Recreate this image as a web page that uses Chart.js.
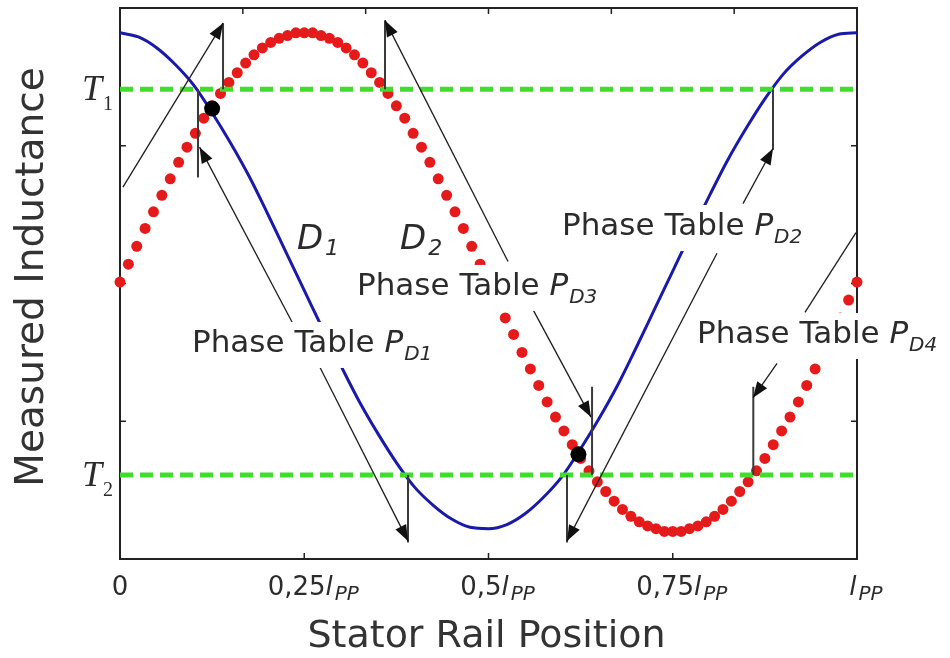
<!DOCTYPE html>
<html>
<head>
<meta charset="utf-8">
<title>Measured Inductance</title>
<script src="https://cdn.jsdelivr.net/npm/chart.js@4.4.1/dist/chart.umd.min.js"></script>
<style>
  html, body { margin: 0; padding: 0; background: #fff; }
  #chart { display: block; }
</style>
</head>
<body>
<canvas id="chart" width="950" height="658"></canvas>
<script>
// inductance of the two detector coils along one pole pitch (x in fractions of l_PP)
var coilD1 = [3.82, 3.79, 3.71, 3.59, 3.44, 3.24, 3.02, 2.78, 2.51, 2.23,
              1.95, 1.67, 1.40, 1.14, 0.91, 0.70, 0.52, 0.39, 0.29, 0.23,
              0.22, 0.25, 0.33, 0.45, 0.60, 0.80, 1.02, 1.26, 1.53, 1.81,
              2.09, 2.37, 2.64, 2.90, 3.13, 3.34, 3.52, 3.65, 3.75, 3.81,
              3.82];
var coilD2 = [2.01, 2.14, 2.27, 2.40, 2.52, 2.64, 2.76, 2.88, 2.99, 3.09,
              3.20, 3.29, 3.38, 3.46, 3.53, 3.60, 3.66, 3.71, 3.75, 3.78,
              3.80, 3.82, 3.82, 3.82, 3.80, 3.78, 3.75, 3.71, 3.66, 3.60,
              3.53, 3.46, 3.38, 3.29, 3.20, 3.09, 2.99, 2.88, 2.76, 2.64,
              2.52, 2.40, 2.27, 2.14, 2.01, 1.88, 1.75, 1.63, 1.50, 1.38,
              1.26, 1.14, 1.03, 0.93, 0.83, 0.73, 0.64, 0.56, 0.49, 0.42,
              0.36, 0.31, 0.27, 0.24, 0.22, 0.20, 0.20, 0.20, 0.22, 0.24,
              0.27, 0.31, 0.36, 0.42, 0.49, 0.56, 0.64, 0.73, 0.83, 0.93,
              1.03, 1.14, 1.26, 1.38, 1.50, 1.63, 1.75, 1.88, 2.01];
var thresholdT1 = 3.41;
var thresholdT2 = 0.61;
var crossings = [{ x: 0.125, y: 3.27 }, { x: 0.622, y: 0.76 }];

var xTicks = [0, 0.25, 0.5, 0.75, 1];
var xTickNumbers = ['0', '0,25', '0,5', '0,75', ''];
var topTicks = [1 / 6, 2 / 6, 3 / 6, 4 / 6, 5 / 6];
var yTicks = [1, 2, 3];

// arrows in data units: [x1, y1, x2, y2, head]
var arrows = [
  [0.004, 2.70, 0.1398, 3.89, true],
  [0.2334, 1.72, 0.108, 2.99, true],
  [0.2714, 1.39, 0.3908, 0.13, true],
  [0.5265, 2.16, 0.3596, 3.91, true],
  [0.5604, 1.81, 0.639, 1.03, true],
  [0.810, 2.22, 0.6065, 0.13, true],
  [0.8453, 2.58, 0.886, 2.98, true],
  [0.9294, 1.79, 0.9986, 2.37, false],
  [0.8915, 1.42, 0.8589, 1.17, true]
];
// vertical marks at the threshold crossings: [x, from, to]
var marks = [
  [0.1398, 3.41, 3.89],
  [0.1058, 3.41, 2.77],
  [0.3908, 0.61, 0.12],
  [0.3596, 3.41, 3.91],
  [0.6405, 0.61, 1.25],
  [0.6065, 0.61, 0.12],
  [0.886, 3.41, 2.97],
  [0.8593, 0.61, 1.25]
];
var phaseTables = [
  { sub: 'D1', x: 0.0977, y: 1.503 },
  { sub: 'D3', x: 0.3216, y: 1.917 },
  { sub: 'D2', x: 0.5997, y: 2.352 },
  { sub: 'D4', x: 0.7829, y: 1.568 }
];
var coilLabels = [
  { sub: '1', x: 0.240, y: 2.25 },
  { sub: '2', x: 0.380, y: 2.25 }
];

var SANS = '"DejaVu Sans", Verdana, sans-serif';
var SERIF = '"Liberation Serif", "Times New Roman", serif';
var TEXT = '#2b2b2b';

function toPoints(values) {
  return values.map(function (v, i) {
    return { x: i / (values.length - 1), y: v };
  });
}

function partsWidth(ctx, parts) {
  var w = 0;
  parts.forEach(function (p) {
    ctx.font = p.font;
    w += ctx.measureText(p.text).width + (p.gap || 0);
  });
  return w;
}

function drawParts(ctx, parts, x, y) {
  parts.forEach(function (p) {
    ctx.font = p.font;
    ctx.fillText(p.text, x, y + (p.dy || 0));
    x += ctx.measureText(p.text).width + (p.gap || 0);
  });
}

function arrowHead(ctx, x1, y1, x2, y2) {
  var a = Math.atan2(y2 - y1, x2 - x1);
  var len = 16, half = 6;
  var bx = x2 - len * Math.cos(a), by = y2 - len * Math.sin(a);
  ctx.beginPath();
  ctx.moveTo(x2, y2);
  ctx.lineTo(bx + half * Math.sin(a), by - half * Math.cos(a));
  ctx.lineTo(bx - half * Math.sin(a), by + half * Math.cos(a));
  ctx.closePath();
  ctx.fill();
}

var overlay = {
  id: 'overlay',
  beforeDatasetsDraw: function (chart) {
    var ctx = chart.ctx, a = chart.chartArea;
    var xs = chart.scales.x, ys = chart.scales.y;
    ctx.save();
    ctx.strokeStyle = '#222';
    ctx.lineWidth = 2;
    ctx.strokeRect(a.left, a.top, a.right - a.left, a.bottom - a.top);
    ctx.lineWidth = 1.5;
    ctx.beginPath();
    xTicks.forEach(function (v) {
      var px = xs.getPixelForValue(v);
      ctx.moveTo(px, a.bottom);
      ctx.lineTo(px, a.bottom - 6);
    });
    topTicks.forEach(function (v) {
      var px = xs.getPixelForValue(v);
      ctx.moveTo(px, a.top);
      ctx.lineTo(px, a.top + 6);
    });
    yTicks.forEach(function (v) {
      var py = ys.getPixelForValue(v);
      ctx.moveTo(a.left, py);
      ctx.lineTo(a.left + 6, py);
      ctx.moveTo(a.right, py);
      ctx.lineTo(a.right - 6, py);
    });
    ctx.stroke();
    ctx.restore();
  },
  afterDatasetsDraw: function (chart) {
    var ctx = chart.ctx, a = chart.chartArea;
    var xs = chart.scales.x, ys = chart.scales.y;
    ctx.save();

    // vertical marks
    ctx.strokeStyle = '#3a3a3a';
    ctx.lineWidth = 2;
    marks.forEach(function (m) {
      var px = xs.getPixelForValue(m[0]);
      ctx.beginPath();
      ctx.moveTo(px, ys.getPixelForValue(m[1]));
      ctx.lineTo(px, ys.getPixelForValue(m[2]));
      ctx.stroke();
    });

    // arrows
    ctx.strokeStyle = '#1e1e1e';
    ctx.fillStyle = '#111';
    ctx.lineWidth = 1.3;
    arrows.forEach(function (r) {
      var x1 = xs.getPixelForValue(r[0]), y1 = ys.getPixelForValue(r[1]);
      var x2 = xs.getPixelForValue(r[2]), y2 = ys.getPixelForValue(r[3]);
      ctx.beginPath();
      ctx.moveTo(x1, y1);
      ctx.lineTo(x2, y2);
      ctx.stroke();
      if (r[4]) arrowHead(ctx, x1, y1, x2, y2);
    });

    // phase table labels on white boxes
    ctx.textBaseline = 'alphabetic';
    phaseTables.forEach(function (t) {
      var parts = [
        { text: 'Phase Table ', font: '31px ' + SANS },
        { text: 'P', font: 'italic 31px ' + SANS, gap: 1 },
        { text: t.sub, font: 'italic 20px ' + SANS, dy: 8 }
      ];
      var x = xs.getPixelForValue(t.x), y = ys.getPixelForValue(t.y);
      var w = partsWidth(ctx, parts);
      ctx.fillStyle = '#fff';
      ctx.fillRect(x - 6, y - 30, w + 12, 46);
      ctx.fillStyle = TEXT;
      drawParts(ctx, parts, x, y);
    });

    // coil names
    ctx.fillStyle = TEXT;
    coilLabels.forEach(function (c) {
      drawParts(ctx, [
        { text: 'D', font: 'italic 34px ' + SANS, gap: 2 },
        { text: c.sub, font: 'italic 22px ' + SANS, dy: 6 }
      ], xs.getPixelForValue(c.x), ys.getPixelForValue(c.y));
    });

    // threshold names
    [['1', thresholdT1], ['2', thresholdT2]].forEach(function (t) {
      var py = ys.getPixelForValue(t[1]);
      drawParts(ctx, [
        { text: 'T', font: 'italic 36px ' + SERIF, gap: 1 },
        { text: t[0], font: '20px ' + SERIF, dy: 10 }
      ], 82, py + 11);
    });

    // x tick labels
    xTicks.forEach(function (v, i) {
      var parts = [{ text: xTickNumbers[i], font: '26px ' + SANS }];
      var shift = 0;
      if (v > 0) {
        parts.push({ text: 'l', font: 'italic 26px ' + SANS, gap: 2 });
        parts.push({ text: 'PP', font: 'italic 20px ' + SANS, dy: 5 });
        shift = 9;
      }
      var w = partsWidth(ctx, parts);
      drawParts(ctx, parts, xs.getPixelForValue(v) - w / 2 + shift, 595);
    });

    // axis titles
    ctx.font = '38px ' + SANS;
    ctx.textAlign = 'center';
    ctx.fillStyle = '#333';
    ctx.fillText('Stator Rail Position', (a.left + a.right) / 2 - 2, 647);
    ctx.save();
    ctx.translate(43, 277);
    ctx.rotate(-Math.PI / 2);
    ctx.font = '39px ' + SANS;
    ctx.fillText('Measured Inductance', 0, 0);
    ctx.restore();

    ctx.restore();
  }
};

var ctx = document.getElementById('chart').getContext('2d');
var chart = new Chart(ctx, {
  type: 'line',
  data: {
    datasets: [
      {
        label: 'D1',
        data: toPoints(coilD1),
        borderColor: '#1a1aa8',
        borderWidth: 3,
        pointRadius: 0,
        cubicInterpolationMode: 'monotone',
        fill: false,
        clip: false,
        order: 5
      },
      {
        label: 'D2',
        data: toPoints(coilD2),
        showLine: false,
        pointRadius: 5.5,
        pointBorderWidth: 0,
        pointBackgroundColor: '#e51b1b',
        pointBorderColor: '#e51b1b',
        clip: false,
        order: 4
      },
      {
        label: 'T1',
        data: [{ x: 0, y: thresholdT1 }, { x: 1, y: thresholdT1 }],
        borderColor: '#42dc30',
        borderWidth: 5,
        borderDash: [13, 7],
        pointRadius: 0,
        order: 3
      },
      {
        label: 'T2',
        data: [{ x: 0, y: thresholdT2 }, { x: 1, y: thresholdT2 }],
        borderColor: '#42dc30',
        borderWidth: 5,
        borderDash: [13, 7],
        pointRadius: 0,
        order: 2
      },
      {
        label: 'crossings',
        data: crossings,
        showLine: false,
        pointRadius: 8,
        pointBorderWidth: 0,
        pointBackgroundColor: '#000',
        pointBorderColor: '#000',
        order: 1
      }
    ]
  },
  options: {
    responsive: false,
    animation: false,
    layout: { padding: { left: 120, right: 93, top: 8, bottom: 99 } },
    plugins: {
      legend: { display: false },
      tooltip: { enabled: false }
    },
    scales: {
      x: { type: 'linear', min: 0, max: 1, display: false },
      y: { type: 'linear', min: 0, max: 4, display: false }
    }
  },
  plugins: [overlay]
});
</script>
</body>
</html>
